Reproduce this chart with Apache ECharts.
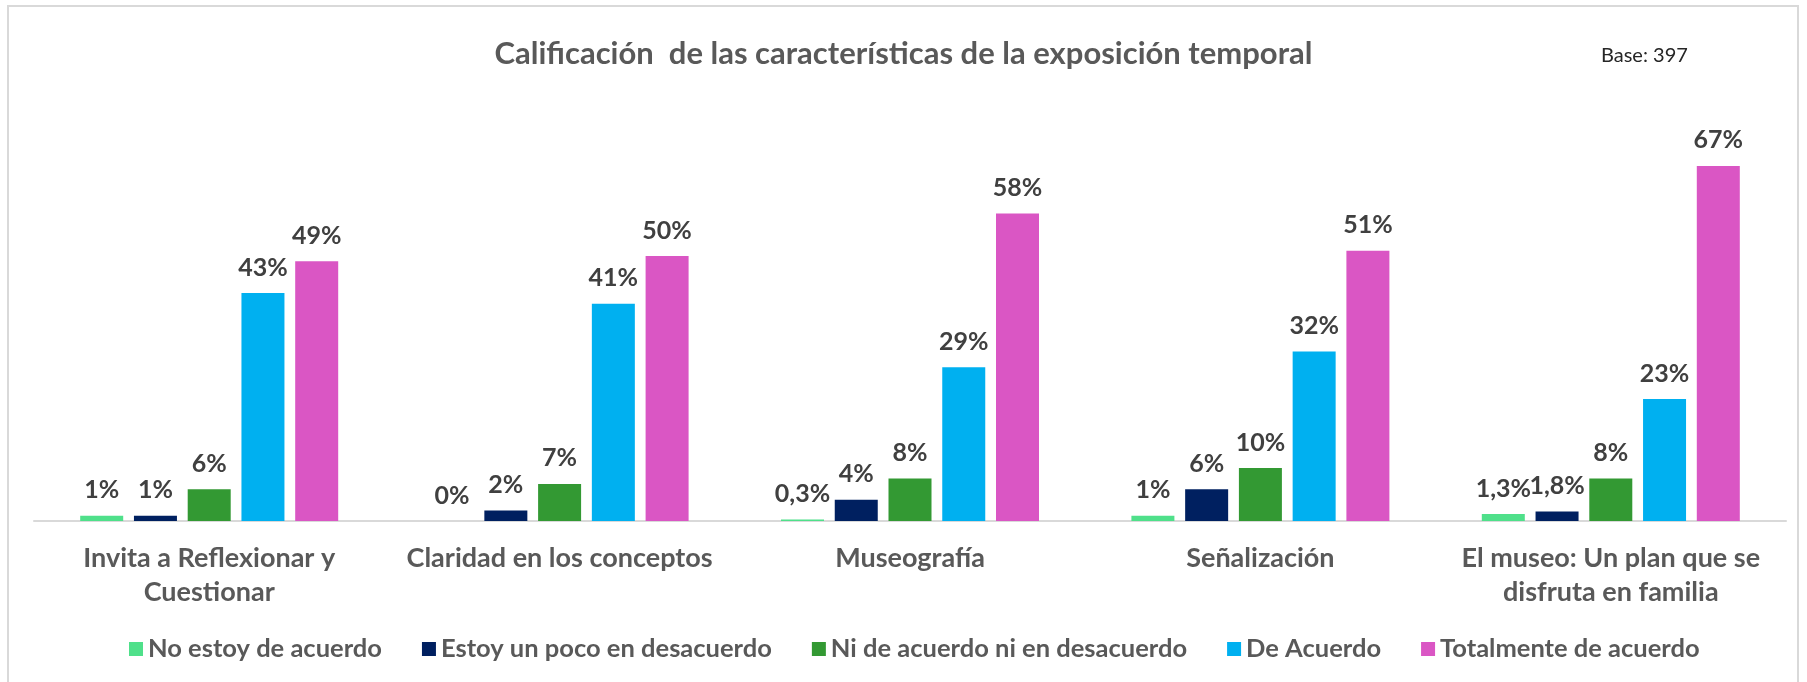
<!DOCTYPE html>
<html>
<head>
<meta charset="utf-8">
<script src="https://cdn.jsdelivr.net/npm/echarts@6/dist/echarts.min.js"></script>
<style>
  html, body { margin: 0; padding: 0; background: #fff; }
  #chart { width: 1807px; height: 682px; }
</style>
</head>
<body>
<div id="chart"></div>
<script>
// Survey ratings (percent of respondents) per exhibition feature
const categories = [
  'Invita a Reflexionar y\nCuestionar',
  'Claridad en los conceptos',
  'Museografía',
  'Señalización',
  'El museo: Un plan que se\ndisfruta en familia'
];
const seriesNames = [
  'No estoy de acuerdo',
  'Estoy un poco en desacuerdo',
  'Ni de acuerdo ni en desacuerdo',
  'De Acuerdo',
  'Totalmente de acuerdo'
];
const noEstoy     = [1, 0, 0.3, 1, 1.3];
const unPoco      = [1, 2, 4, 6, 1.8];
const niNi        = [6, 7, 8, 10, 8];
const deAcuerdo   = [43, 41, 29, 32, 23];
const totalmente  = [49, 50, 58, 51, 67];
const colors = ['#4FE08A', '#002060', '#339933', '#00B0F0', '#DA56C4'];

const FONT = 'Lato, "Open Sans", sans-serif';
const allValues = [noEstoy, unPoco, niNi, deAcuerdo, totalmente];

const chart = echarts.init(document.getElementById('chart'), null, { renderer: 'canvas' });

const series = allValues.map((vals, i) => ({
  name: seriesNames[i],
  type: 'bar',
  data: vals,
  barWidth: 43,
  barGap: '25%',
  itemStyle: { color: colors[i] },
  label: {
    show: true,
    position: 'top',
    distance: 13,
    fontFamily: FONT,
    fontWeight: 'bold',
    fontSize: 25,
    color: '#404040',
    formatter: p => String(p.value).replace('.', ',') + '%'
  }
}));

chart.setOption({
  animation: false,
  backgroundColor: '#ffffff',
  title: [
    {
      text: 'Calificación  de las características de la exposición temporal',
      left: 'center',
      top: 33,
      textStyle: { fontFamily: FONT, fontWeight: 'bold', fontSize: 31, color: '#595959' }
    },
    {
      text: 'Base: 397',
      left: 1596,
      top: 41,
      textStyle: { fontFamily: FONT, fontWeight: 'normal', fontSize: 20, color: '#262626' }
    }
  ],
  graphic: [
    {
      type: 'rect',
      shape: { x: 8, y: 6, width: 1790, height: 690 },
      style: { fill: 'none', stroke: '#d9d9d9', lineWidth: 2 },
      silent: true
    }
  ],
  legend: {
    bottom: 15,
    left: 124,
    icon: 'rect',
    itemWidth: 14,
    itemHeight: 14,
    itemGap: 40,
    textStyle: { fontFamily: FONT, fontWeight: 'bold', fontSize: 25.5, color: '#595959' },
    data: seriesNames
  },
  grid: { left: 34, right: 21, top: 97, bottom: 161, containLabel: false },
  xAxis: {
    type: 'category',
    data: categories,
    axisLine: { show: true, lineStyle: { color: '#d9d9d9', width: 2 } },
    axisTick: { show: false },
    axisLabel: {
      margin: 20,
      interval: 0,
      fontFamily: FONT,
      fontWeight: 'bold',
      fontSize: 27,
      lineHeight: 34,
      color: '#595959'
    }
  },
  yAxis: {
    type: 'value',
    min: 0,
    max: 80,
    show: false,
    splitLine: { show: false }
  },
  series: series
});
</script>
</body>
</html>
